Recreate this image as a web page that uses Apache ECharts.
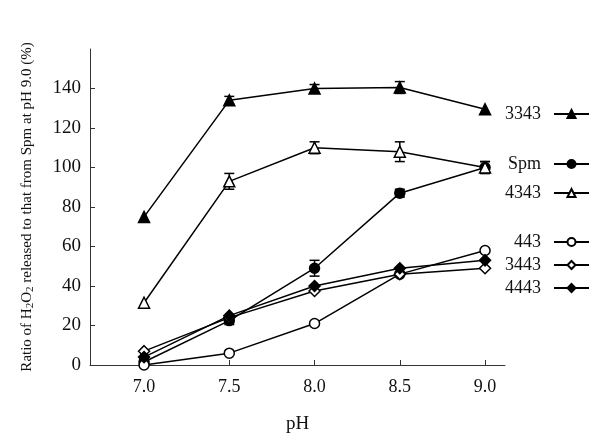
<!DOCTYPE html>
<html><head><meta charset="utf-8">
<script src="https://cdn.jsdelivr.net/npm/echarts@6/dist/echarts.min.js"></script>
<style>html,body{margin:0;background:#fff}#c{width:600px;height:444px}</style></head>
<body><div id="c"></div>
<script>
const pH = [7.0, 7.5, 8.0, 8.5, 9.0];
const names = ['3343', 'Spm', '4343', '443', '3443', '4443'];
const s3343 = [75, 134, 140, 140.5, 129.5];
const s3343Err = [0, 2, 2, 3, 0];
const sSpm = [1.5, 22.5, 49, 87, 100];
const sSpmErr = [0, 2, 4, 2, 3];
const s4343 = [31.5, 93, 110, 108, 100];
const s4343Err = [0, 4, 3, 5, 3];
const s443 = [0, 6, 21, 46, 58];
const s3443 = [7, 24, 37.5, 46, 49];
const s4443 = [4, 25, 40, 49, 53];
const xTicks = [7.0, 7.5, 8.0, 8.5, 9.0];
const yTicks = [0, 20, 40, 60, 80, 100, 120, 140];

// layout (not data)
const legendTops = [109, 159, 188, 237, 260, 283];
const FONT = 'Liberation Serif';

const pairs = v => pH.map((x, i) => [x, v[i]]);
function lineSeries(name, vals, symbol, filled) {
  return {
    type: 'line', name, data: pairs(vals), symbol, symbolSize: symbol === 'circle' ? 10 : 11,
    lineStyle: { color: '#000', width: 1.5 },
    itemStyle: { color: filled ? '#000' : '#fff', borderColor: '#000', borderWidth: 1.5 },
    z: 3, animation: false
  };
}
function errSeries(vals, errs) {
  return {
    type: 'custom', silent: true, z: 2, animation: false,
    encode: { x: 0, y: 1 },
    data: pH.map((x, i) => [x, vals[i], errs[i]]).filter(d => d[2] > 0),
    renderItem: (params, api) => {
      const x = api.value(0), y = api.value(1), e = api.value(2);
      const t = api.coord([x, y + e]), b = api.coord([x, y - e]);
      const w = 5, st = { stroke: '#000', lineWidth: 1.5 };
      return { type: 'group', children: [
        { type: 'line', shape: { x1: t[0], y1: t[1], x2: b[0], y2: b[1] }, style: st },
        { type: 'line', shape: { x1: t[0] - w, y1: t[1], x2: t[0] + w, y2: t[1] }, style: st },
        { type: 'line', shape: { x1: b[0] - w, y1: b[1], x2: b[0] + w, y2: b[1] }, style: st }
      ]};
    }
  };
}

const chart = echarts.init(document.getElementById('c'), null, { renderer: 'canvas' });
chart.setOption({
  animation: false,
  backgroundColor: '#fff',
  textStyle: { fontFamily: FONT },
  grid: { left: 90, right: 95, top: 49, bottom: 79, containLabel: false },
  xAxis: {
    type: 'value', min: 6.683, max: 9.117,
    name: 'pH', nameLocation: 'middle', nameGap: 50,
    nameTextStyle: { fontFamily: FONT, fontSize: 19, color: '#111' },
    axisLine: { lineStyle: { color: '#333', width: 1 } },
    axisTick: { inside: true, length: 5, customValues: xTicks, lineStyle: { color: '#333' } },
    axisLabel: { customValues: xTicks, formatter: v => v.toFixed(1), fontFamily: FONT, fontSize: 18, color: '#111', margin: 13 },
    splitLine: { show: false }
  },
  yAxis: {
    type: 'value', min: 0, max: 160,
    name: 'Ratio of H{sub|2}O{sub|2} released to that from Spm at pH 9.0 (%)',
    nameLocation: 'middle', nameGap: 54,
    nameTextStyle: { fontFamily: FONT, fontSize: 15, color: '#111',
      rich: { sub: { fontFamily: FONT, fontSize: 11, color: '#111', verticalAlign: 'bottom', padding: [6, 0, 0, 0] } } },
    axisLine: { show: true, lineStyle: { color: '#333', width: 1 } },
    axisTick: { show: true, inside: true, length: 5, customValues: yTicks, lineStyle: { color: '#333' } },
    axisLabel: { customValues: yTicks, fontFamily: FONT, fontSize: 19, color: '#111', margin: 9 },
    splitLine: { show: false }
  },
  legend: names.map((n, i) => ({
    data: [n], right: 5, top: legendTops[i] - 9, align: 'right', selectedMode: false,
    itemWidth: 35, itemHeight: 10, itemGap: 0,
    textStyle: { fontFamily: FONT, fontSize: 18, color: '#111', padding: [0, 8, 0, 0] }
  })),
  series: [
    errSeries(s3343, s3343Err),
    errSeries(sSpm, sSpmErr),
    errSeries(s4343, s4343Err),
    lineSeries('3343', s3343, 'triangle', true),
    lineSeries('Spm', sSpm, 'circle', true),
    lineSeries('4343', s4343, 'triangle', false),
    lineSeries('443', s443, 'circle', false),
    lineSeries('3443', s3443, 'diamond', false),
    lineSeries('4443', s4443, 'diamond', true)
  ]
});
</script></body></html>
